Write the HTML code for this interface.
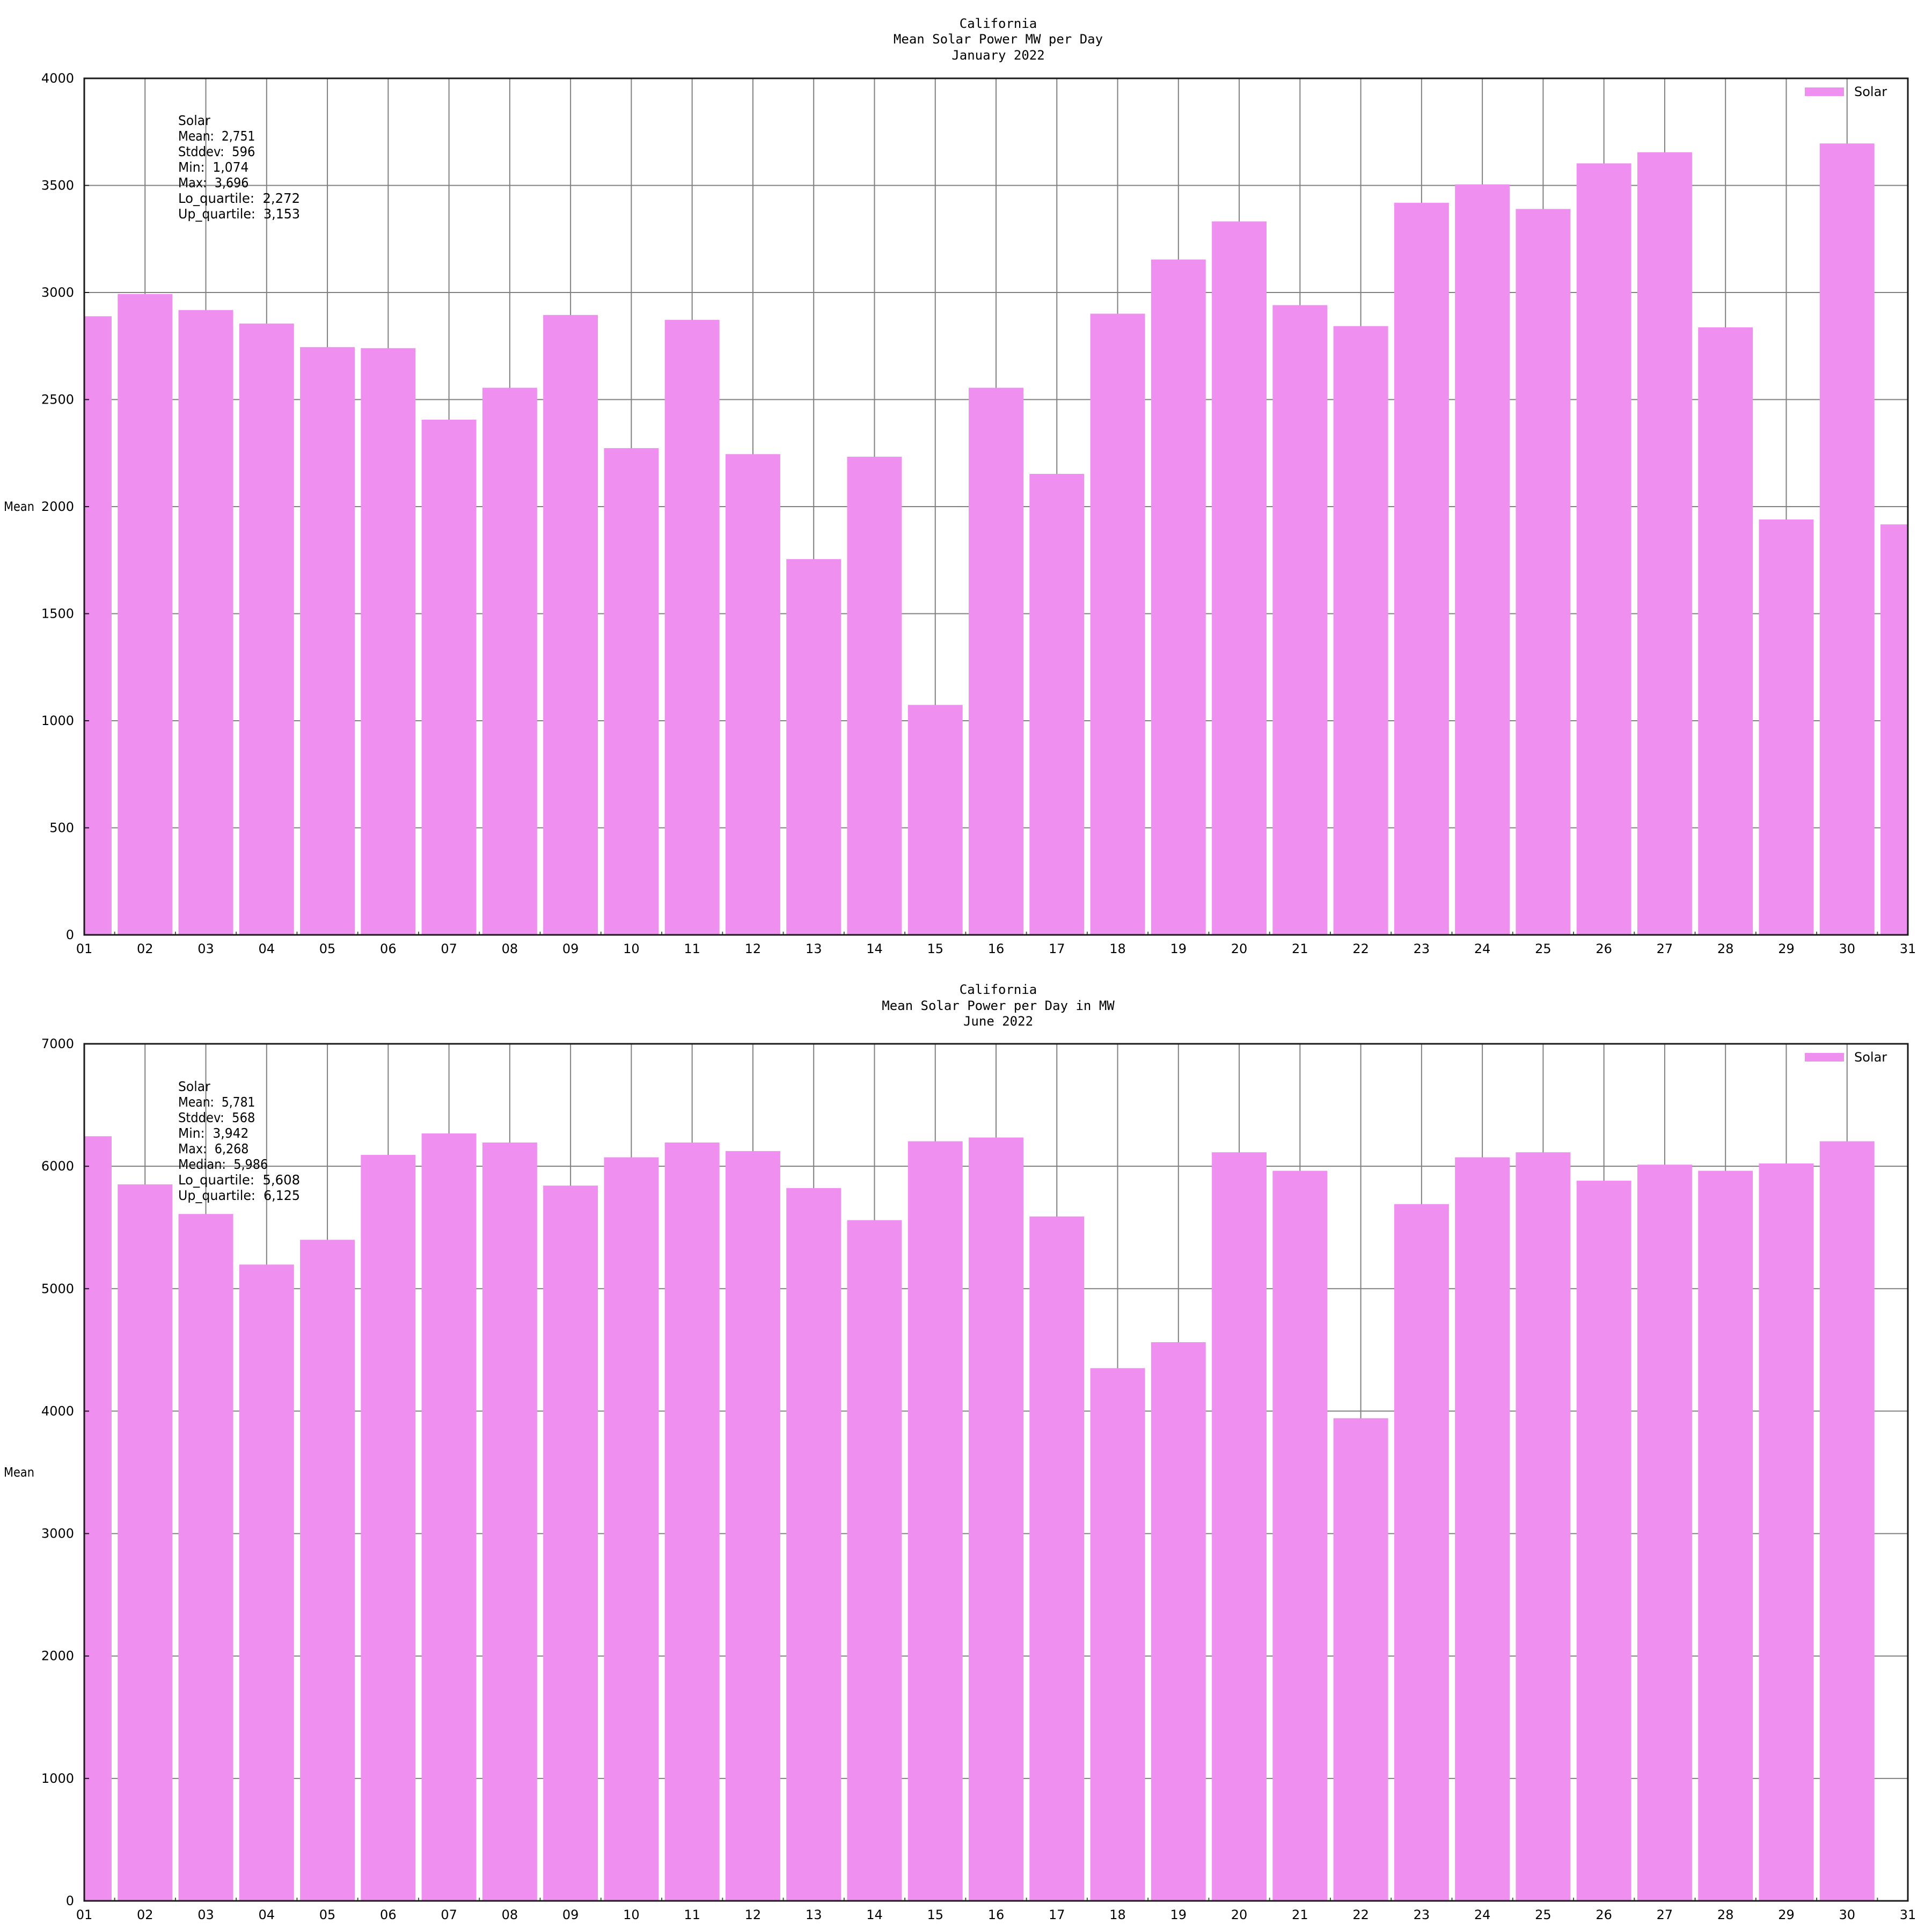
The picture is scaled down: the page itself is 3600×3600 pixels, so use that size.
<!DOCTYPE html>
<html><head><meta charset="utf-8">
<style>
html,body{margin:0;padding:0;background:#fff;}
svg{display:block;}
text{font-family:"DejaVu Sans","Liberation Sans",sans-serif;fill:#000;white-space:pre;}
.mono{font-family:"DejaVu Sans Mono","Liberation Mono",monospace;font-size:24px;}
</style></head>
<body>
<svg id="s" xmlns="http://www.w3.org/2000/svg" width="3600" height="3600" viewBox="0 0 3600 3600">
<rect width="3600" height="3600" fill="#fff"/>
<text class="mono" x="1860" y="52" text-anchor="middle">California</text>
<text class="mono" x="1860" y="81" text-anchor="middle">Mean Solar Power MW per Day</text>
<text class="mono" x="1860" y="111" text-anchor="middle">January 2022</text>
<text class="mono" x="1860" y="1852" text-anchor="middle">California</text>
<text class="mono" x="1860" y="1882" text-anchor="middle">Mean Solar Power per Day in MW</text>
<text class="mono" x="1860" y="1911" text-anchor="middle">June 2022</text>
</svg>
<script>
const NS="http://www.w3.org/2000/svg";
const svg=document.getElementById('s');
function el(t,a,txt){const e=document.createElementNS(NS,t);for(const k in a)e.setAttribute(k,a[k]);if(txt!==undefined)e.textContent=txt;svg.appendChild(e);return e;}
const L=157,R=3555,step=(R-L)/30;
function X(d){return L+(d-1)*step;}
function plot(T,B,max,tick,data,id,stats,sy){
  const sc=(B-T)/max;
  for(let v=tick;v<max;v+=tick){const y=B-v*sc;el('line',{x1:L,x2:R,y1:y,y2:y,stroke:'#808080','stroke-width':2});}
  for(let d=2;d<=30;d++){el('line',{x1:X(d),x2:X(d),y1:T,y2:B,stroke:'#808080','stroke-width':2});}
  const cp=el('clipPath',{id:id});const r=document.createElementNS(NS,'rect');
  r.setAttribute('x',L);r.setAttribute('y',T);r.setAttribute('width',R-L);r.setAttribute('height',B-T);cp.appendChild(r);
  const g=el('g',{'clip-path':'url(#'+id+')'});
  data.forEach((v,i)=>{const cx=X(i+1),w=step*0.9;const b=document.createElementNS(NS,'rect');
    b.setAttribute('x',cx-w/2);b.setAttribute('y',B-v*sc);b.setAttribute('width',w);b.setAttribute('height',v*sc);
    b.setAttribute('fill','#ef8fef');g.appendChild(b);});
  for(let d=1;d<=30;d++){const x=X(d)+step/2;el('line',{x1:x,x2:x,y1:B,y2:B-6,stroke:'#555','stroke-width':2});}
  el('rect',{x:L,y:T,width:R-L,height:B-T,fill:'none',stroke:'#1a1a1a','stroke-width':3});
  for(let v=0;v<=max;v+=tick){const y=B-v*sc;
    el('text',{x:138,y:y+8,'text-anchor':'end','font-size':24},String(v));
    el('line',{x1:L,x2:L+9,y1:y,y2:y,stroke:'#1a1a1a','stroke-width':2});}
  for(let d=1;d<=31;d++){el('text',{x:X(d),y:B+34,'text-anchor':'middle','font-size':24},(d<10?'0':'')+d);}
  el('text',{x:7,y:(T+B)/2+8,'font-size':24,textLength:57,lengthAdjust:'spacingAndGlyphs'},'Mean');
  el('rect',{x:3363,y:T+17,width:73,height:16,fill:'#ef8fef'});
  el('text',{x:3455,y:T+33,'font-size':24},'Solar');
  stats.forEach((s,i)=>{el('text',{x:332,y:sy+i*29,'font-size':25,textLength:s.length*11.95,lengthAdjust:'spacingAndGlyphs'},s);});
}
const jan=[2889,2993,2918,2855,2745,2740,2406,2555,2895,2273,2872,2245,1755,2233,1074,2555,2153,2901,3154,3332,2941,2843,3419,3505,3390,3603,3655,2837,1940,3696,1917];
const jun=[6245,5852,5610,5197,5399,6093,6268,6194,5842,6073,6194,6124,5822,5560,6204,6235,5590,4351,4563,6114,5963,3942,5691,6073,6114,5882,6013,5963,6023,6204];
plot(146,1742,4000,500,jan,'c1',['Solar','Mean:  2,751','Stddev:  596','Min:  1,074','Max:  3,696','Lo_quartile:  2,272','Up_quartile:  3,153'],233);
plot(1945,3542,7000,1000,jun,'c2',['Solar','Mean:  5,781','Stddev:  568','Min:  3,942','Max:  6,268','Median:  5,986','Lo_quartile:  5,608','Up_quartile:  6,125'],2033);
</script>
</body></html>
